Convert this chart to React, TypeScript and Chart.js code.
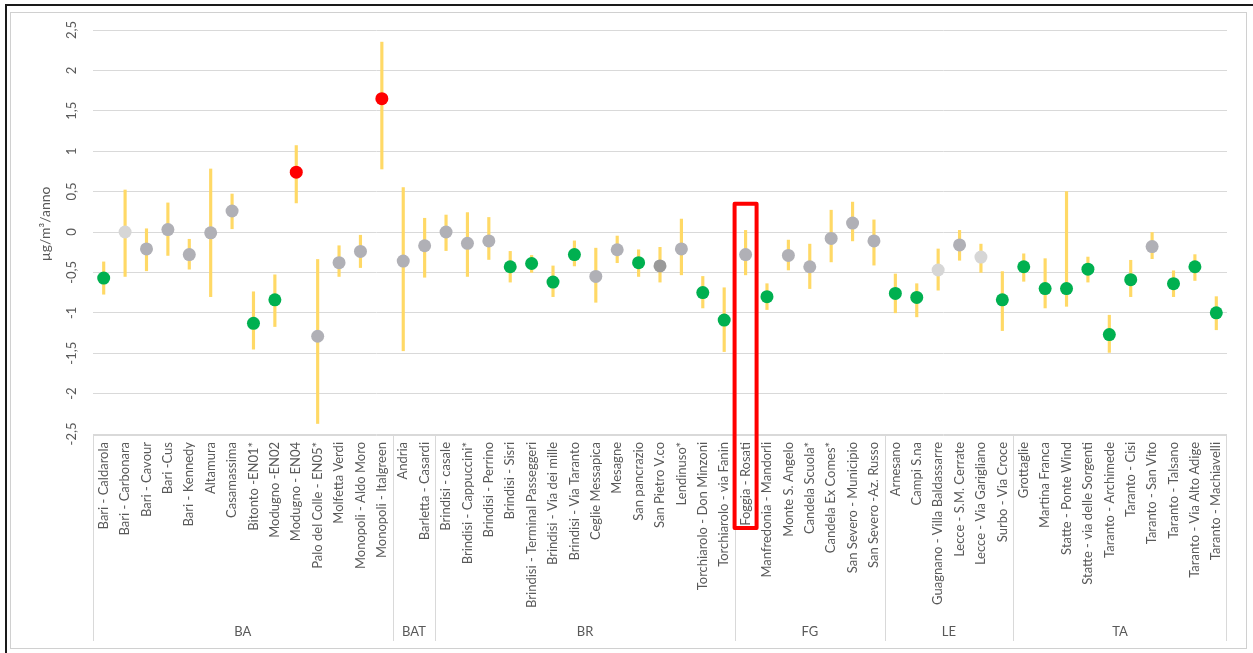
import React, { useEffect, useRef } from "react";
import { Chart, registerables } from "chart.js";

Chart.register(...registerables);

const categories: string[] = [
  "Bari - Caldarola", "Bari - Carbonara", "Bari - Cavour", "Bari -Cus", "Bari - Kennedy",
  "Altamura", "Casamassima", "Bitonto -EN01*", "Modugno -EN02", "Modugno - EN04",
  "Palo del Colle - EN05*", "Molfetta Verdi", "Monopoli - Aldo Moro", "Monopoli - Italgreen",
  "Andria", "Barletta - Casardi",
  "Brindisi - casale", "Brindisi - Cappuccini*", "Brindisi - Perrino", "Brindisi - Sisri",
  "Brindisi - Terminal Passeggeri", "Brindisi - Via dei mille", "Brindisi - Via Taranto",
  "Ceglie Messapica", "Mesagne", "San pancrazio", "San Pietro V.co", "Lendinuso*",
  "Torchiarolo - Don Minzoni", "Torchiarolo - via Fanin",
  "Foggia - Rosati", "Manfredonia - Mandorli", "Monte S. Angelo", "Candela Scuola*",
  "Candela Ex Comes*", "San Severo - Municipio", "San Severo -Az. Russo",
  "Arnesano", "Campi S.na", "Guagnano - Villa Baldassarre", "Lecce - S.M. Cerrate",
  "Lecce - Via Garigliano", "Surbo - Via Croce",
  "Grottaglie", "Martina Franca", "Statte - Ponte Wind", "Statte - via delle Sorgenti",
  "Taranto - Archimede", "Taranto - Cisi", "Taranto - San Vito", "Taranto - Talsano",
  "Taranto - Via Alto Adige", "Taranto - Machiavelli",
];

const groupNames: string[] = ["BA", "BAT", "BR", "FG", "LE", "TA"];
const groupSizes: number[] = [14, 2, 14, 7, 6, 10];

const trendValues: number[] = [
  -0.57, 0.0, -0.21, 0.03, -0.28, -0.01, 0.26, -1.13, -0.84, 0.74, -1.29, -0.38, -0.24, 1.65,
  -0.36, -0.17,
  0.0, -0.14, -0.11, -0.43, -0.39, -0.62, -0.28, -0.55, -0.22, -0.38, -0.42, -0.21, -0.75, -1.09,
  -0.28, -0.8, -0.29, -0.43, -0.08, 0.11, -0.11,
  -0.76, -0.81, -0.47, -0.16, -0.31, -0.84,
  -0.43, -0.7, -0.7, -0.46, -1.27, -0.59, -0.18, -0.64, -0.43, -1.0,
];

const lowValues: number[] = [
  -0.77, -0.55, -0.48, -0.29, -0.46, -0.8, 0.04, -1.45, -1.17, 0.36, -2.37, -0.55, -0.44, 0.78,
  -1.47, -0.56,
  -0.23, -0.55, -0.34, -0.62, -0.5, -0.8, -0.42, -0.87, -0.38, -0.55, -0.62, -0.53, -0.94, -1.48,
  -0.53, -0.96, -0.47, -0.7, -0.37, -0.11, -0.41,
  -1.0, -1.05, -0.72, -0.35, -0.5, -1.22,
  -0.61, -0.94, -0.92, -0.62, -1.49, -0.8, -0.33, -0.8, -0.6, -1.21,
];

const highValues: number[] = [
  -0.37, 0.52, 0.04, 0.36, -0.09, 0.78, 0.47, -0.74, -0.53, 1.07, -0.34, -0.17, -0.04, 2.35,
  0.55, 0.17,
  0.21, 0.24, 0.18, -0.24, -0.29, -0.42, -0.11, -0.2, -0.05, -0.22, -0.19, 0.16, -0.55, -0.69,
  0.02, -0.64, -0.1, -0.15, 0.27, 0.37, 0.15,
  -0.52, -0.64, -0.21, 0.02, -0.15, -0.49,
  -0.27, -0.33, 0.5, -0.31, -1.03, -0.35, 0.0, -0.48, -0.28, -0.8,
];

// G = significant decrease, R = significant increase, g = not significant, l = light, d = dark
const pointStatus: string[] = [
  "G", "l", "g", "g", "g", "g", "g", "G", "G", "R", "g", "g", "g", "R",
  "g", "g",
  "g", "g", "g", "G", "G", "G", "G", "g", "g", "G", "d", "g", "G", "G",
  "g", "G", "g", "g", "g", "g", "g",
  "G", "G", "l", "g", "l", "G",
  "G", "G", "G", "G", "G", "G", "g", "G", "G", "G",
];

const yTickLabels: string[] = ["2,5", "2", "1,5", "1", "0,5", "0", "-0,5", "-1", "-1,5", "-2", "-2,5"];
const yTickValues: number[] = [2.5, 2, 1.5, 1, 0.5, 0, -0.5, -1, -1.5, -2, -2.5];

const yTitle = "µg/m³/anno";
const highlightIndex = 30;
const highlightTopValue = 0.35;

const statusColors: Record<string, string> = {
  G: "#00B050",
  R: "#FF0000",
  g: "#B0B0B6",
  l: "#D6D6D6",
  d: "#9A9A9A",
};

const FONT = "Lato, 'Open Sans', sans-serif";
const TEXT = "#595959";
const LINE = "#D9D9D9";

const decorPlugin = {
  id: "decor",
  afterDraw(chart: any) {
    const { ctx, chartArea, scales } = chart;
    const x = scales.x;
    const y = scales.y;
    ctx.save();
    // y tick labels, rotated
    ctx.fillStyle = TEXT;
    ctx.font = `13px ${FONT}`;
    ctx.textAlign = "center";
    ctx.textBaseline = "middle";
    yTickValues.forEach((v, i) => {
      const py = y.getPixelForValue(v);
      ctx.save();
      ctx.translate(chartArea.left - 21, py);
      ctx.rotate(-Math.PI / 2);
      ctx.fillText(yTickLabels[i], 0, 0);
      ctx.restore();
    });
    // y title
    ctx.save();
    ctx.translate(chartArea.left - 48, y.getPixelForValue(0.1));
    ctx.rotate(-Math.PI / 2);
    ctx.font = `14px ${FONT}`;
    ctx.fillText(yTitle, 0, 0);
    ctx.restore();

    // category label box
    const top = chartArea.bottom + 1.5;
    const bottom = chartArea.bottom + 207;
    ctx.strokeStyle = LINE;
    ctx.lineWidth = 1;
    ctx.font = `13px ${FONT}`;
    ctx.beginPath();
    ctx.moveTo(chartArea.left, top);
    ctx.lineTo(chartArea.right, top);
    ctx.moveTo(chartArea.left + 0.5, top);
    ctx.lineTo(chartArea.left + 0.5, bottom);
    ctx.moveTo(chartArea.right - 0.5, top);
    ctx.lineTo(chartArea.right - 0.5, bottom);
    let start = 0;
    const half = (x.getPixelForValue(1) - x.getPixelForValue(0)) / 2;
    groupSizes.forEach((size, gi) => {
      const end = start + size - 1;
      const cx = (x.getPixelForValue(start) + x.getPixelForValue(end)) / 2;
      if (gi < groupSizes.length - 1) {
        const bx = Math.round(x.getPixelForValue(end) + half) + 0.5;
        ctx.moveTo(bx, top);
        ctx.lineTo(bx, bottom);
      }
      ctx.fillText(groupNames[gi], cx, chartArea.bottom + 198);
      start += size;
    });
    ctx.stroke();

    // highlight box
    const hx = x.getPixelForValue(highlightIndex);
    const hy = y.getPixelForValue(highlightTopValue);
    ctx.strokeStyle = "#FF0000";
    ctx.lineWidth = 4;
    ctx.lineJoin = "round";
    ctx.strokeRect(hx - 11, hy, 22, chartArea.bottom + 94 - hy);
    ctx.restore();
  },
};

export default function App() {
  const ref = useRef<HTMLCanvasElement | null>(null);
  useEffect(() => {
    if (!ref.current) return;
    const chart = new Chart(ref.current, {
      type: "bar",
      data: {
        labels: categories,
        datasets: [
          {
            type: "line",
            label: "trend",
            data: trendValues,
            showLine: false,
            pointRadius: 6.5,
            pointHoverRadius: 6.5,
            pointBorderWidth: 0,
            pointBackgroundColor: pointStatus.map((s) => statusColors[s]),
            pointBorderColor: pointStatus.map((s) => statusColors[s]),
            order: 0,
          } as any,
          {
            type: "bar",
            label: "range",
            data: lowValues.map((l, i) => [l, highValues[i]]),
            backgroundColor: "#FFD966",
            barThickness: 2.5,
            borderSkipped: false,
            grouped: false,
            order: 1,
          } as any,
        ],
      },
      options: {
        animation: false,
        responsive: false,
        devicePixelRatio: 1,
        layout: { padding: { top: 30, left: 0, right: 26, bottom: 0 } },
        plugins: { legend: { display: false }, tooltip: { enabled: false } },
        scales: {
          x: {
            type: "category",
            offset: true,
            grid: { display: false, drawTicks: false },
            border: { display: false },
            ticks: {
              autoSkip: false,
              minRotation: 90,
              maxRotation: 90,
              padding: 8,
              color: TEXT,
              font: { family: FONT, size: 13 },
            },
            afterFit: (s: any) => {
              s.height = 219;
            },
          },
          y: {
            min: -2.5,
            max: 2.5,
            ticks: { stepSize: 0.5, display: false },
            grid: { color: LINE, drawTicks: false },
            border: { display: false },
            afterFit: (s: any) => {
              s.width = 93;
            },
          },
        },
      },
      plugins: [decorPlugin],
    });
    return () => chart.destroy();
  }, []);

  return (
    <div style={{ position: "absolute", left: 0, top: 0, width: 1253, height: 653, background: "#fff", overflow: "hidden" }}>
      <div style={{ position: "absolute", left: 5, top: 4, width: 1248, height: 649, borderLeft: "2px solid #1a1a1a", borderTop: "2px solid #1a1a1a" }} />
      <div style={{ position: "absolute", left: 10, top: 12, width: 1235, height: 635, border: "1px solid #D0D0D0" }} />
      <canvas ref={ref} width={1253} height={653} style={{ position: "absolute", left: 0, top: 0 }} />
    </div>
  );
}
